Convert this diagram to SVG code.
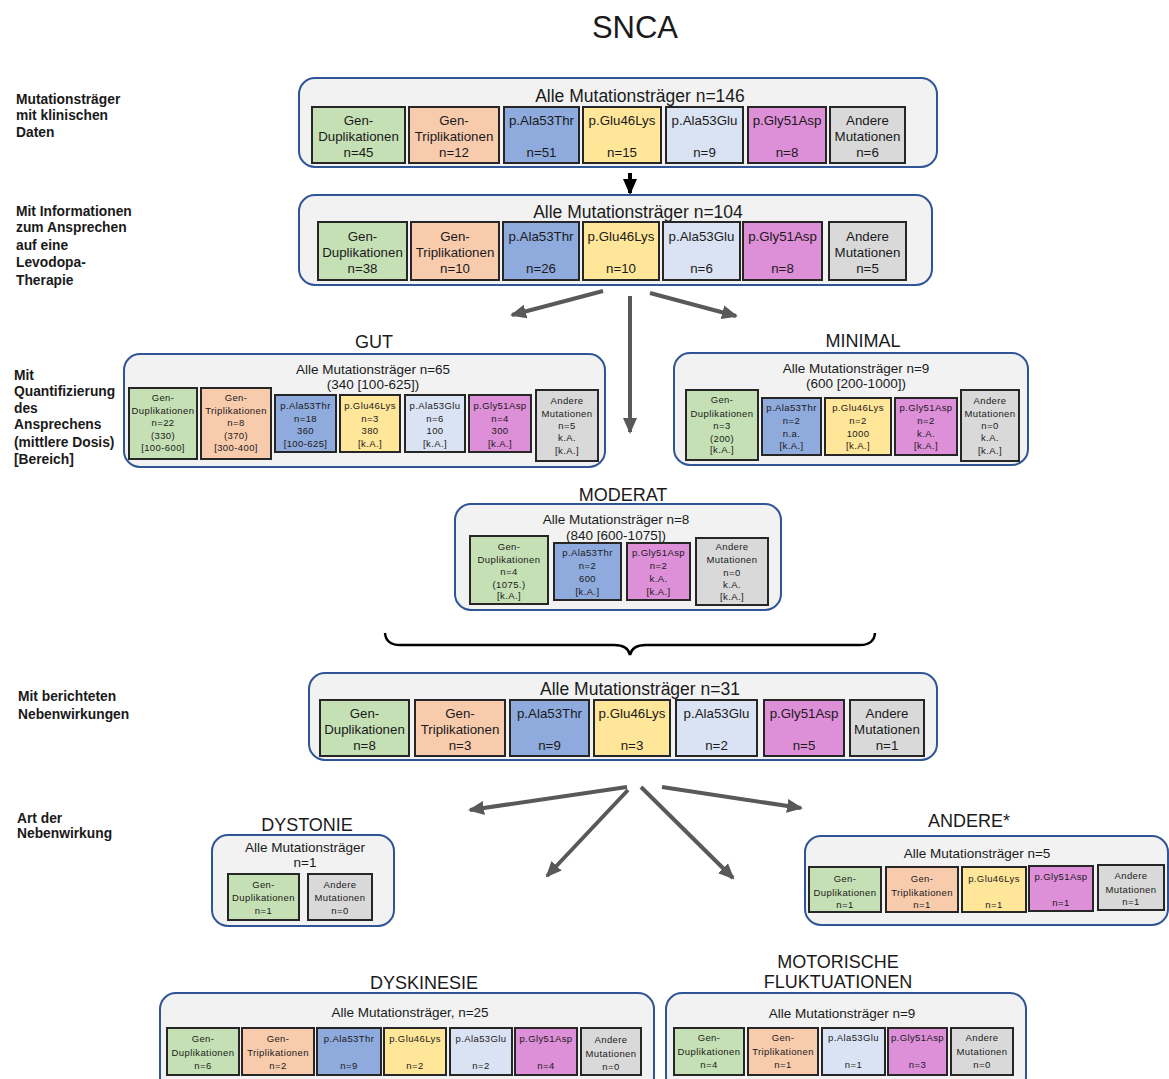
<svg xmlns="http://www.w3.org/2000/svg" width="1169" height="1079" viewBox="0 0 1169 1079">
<style>
text{font-family:"Liberation Sans",Arial,sans-serif;fill:#1a1a1a}
.grp{fill:#f2f2f2;stroke:#2f5597;stroke-width:2}
.b{stroke:#262626;stroke-width:2}
.g{fill:#c5e0b4}.o{fill:#f8cbad}.bl{fill:#8faadc}.y{fill:#ffe699}.lb{fill:#dae3f3}.m{fill:#dd8fd8}.gr{fill:#d9d9d9}
.t{font-size:17.5px;text-anchor:middle}
.st{font-size:13.5px;text-anchor:middle}
.L{font-size:13.3px;text-anchor:middle}
.s{font-size:9.5px;text-anchor:middle;letter-spacing:0.4px}
.h{font-size:18px;text-anchor:middle}
.lab{font-size:13.8px;font-weight:bold}
.con{stroke:#595959;stroke-width:4;fill:none}
</style>
<defs>
<marker id="ah" markerUnits="userSpaceOnUse" markerWidth="16" markerHeight="16" refX="14" refY="8" orient="auto"><path d="M0,1 L16,8 L0,15 Z" fill="#595959"/></marker>
<marker id="ahk" markerUnits="userSpaceOnUse" markerWidth="16" markerHeight="16" refX="14" refY="8" orient="auto"><path d="M0,1 L16,8 L0,15 Z" fill="#000"/></marker>
</defs>
<rect width="1169" height="1079" fill="#fff"/>
<text x="635" y="38" style="font-size:31px;text-anchor:middle">SNCA</text>

<g id="labels">
<text class="lab" x="16" y="104">Mutationsträger</text>
<text class="lab" x="16" y="120">mit klinischen</text>
<text class="lab" x="16" y="137">Daten</text>
<text class="lab" x="16" y="216">Mit Informationen</text>
<text class="lab" x="16" y="232">zum Ansprechen</text>
<text class="lab" x="16" y="250">auf eine</text>
<text class="lab" x="16" y="267">Levodopa-</text>
<text class="lab" x="16" y="285">Therapie</text>
<text class="lab" x="14" y="380">Mit</text>
<text class="lab" x="14" y="396">Quantifizierung</text>
<text class="lab" x="14" y="413">des</text>
<text class="lab" x="14" y="429">Ansprechens</text>
<text class="lab" x="14" y="447">(mittlere Dosis)</text>
<text class="lab" x="14" y="464">[Bereich]</text>
<text class="lab" x="18" y="701">Mit berichteten</text>
<text class="lab" x="18" y="719">Nebenwirkungen</text>
<text class="lab" x="17" y="823">Art der</text>
<text class="lab" x="17" y="838">Nebenwirkung</text>
</g>

<g id="connectors">
<line class="con" x1="630" y1="173" x2="630" y2="193" style="stroke:#000" marker-end="url(#ahk)"/>
<line class="con" x1="603" y1="291" x2="512" y2="315" marker-end="url(#ah)"/>
<line class="con" x1="630" y1="296" x2="630" y2="432" marker-end="url(#ah)"/>
<line class="con" x1="650" y1="293" x2="736" y2="316" marker-end="url(#ah)"/>
<path d="M385,633 Q386,645 400,645 L614,645 Q628,645 630,655 Q632,645 646,645 L860,645 Q874,645 875,633" fill="none" stroke="#000" stroke-width="2.5"/>
<line class="con" x1="627" y1="787" x2="470" y2="810" marker-end="url(#ah)"/>
<line class="con" x1="628" y1="790" x2="547" y2="876" marker-end="url(#ah)"/>
<line class="con" x1="641" y1="787" x2="733" y2="878" marker-end="url(#ah)"/>
<line class="con" x1="662" y1="787" x2="801" y2="808" marker-end="url(#ah)"/>
</g>

<g id="all146">
<rect class="grp" x="299" y="78" width="638" height="89" rx="16"/>
<text class="t" x="640" y="102">Alle Mutationsträger n=146</text>
<rect class="b g" x="312" y="107" width="93" height="56"/>
<text class="L" x="358.5" y="125">Gen-</text><text class="L" x="358.5" y="141">Duplikationen</text><text class="L" x="358.5" y="157">n=45</text>
<rect class="b o" x="409" y="107" width="90" height="56"/>
<text class="L" x="454" y="125">Gen-</text><text class="L" x="454" y="141">Triplikationen</text><text class="L" x="454" y="157">n=12</text>
<rect class="b bl" x="504" y="107" width="75" height="56"/>
<text class="L" x="541.5" y="125">p.Ala53Thr</text><text class="L" x="541.5" y="157">n=51</text>
<rect class="b y" x="583" y="107" width="78" height="56"/>
<text class="L" x="622" y="125">p.Glu46Lys</text><text class="L" x="622" y="157">n=15</text>
<rect class="b lb" x="666" y="107" width="77" height="56"/>
<text class="L" x="704.5" y="125">p.Ala53Glu</text><text class="L" x="704.5" y="157">n=9</text>
<rect class="b m" x="748" y="107" width="78" height="56"/>
<text class="L" x="787" y="125">p.Gly51Asp</text><text class="L" x="787" y="157">n=8</text>
<rect class="b gr" x="830" y="107" width="75" height="56"/>
<text class="L" x="867.5" y="125">Andere</text><text class="L" x="867.5" y="141">Mutationen</text><text class="L" x="867.5" y="157">n=6</text>
</g>

<g id="all104">
<rect class="grp" x="299" y="195" width="633" height="90" rx="16"/>
<text class="t" x="638" y="218">Alle Mutationsträger n=104</text>
<rect class="b g" x="318" y="222" width="89" height="58"/>
<text class="L" x="362.5" y="241">Gen-</text><text class="L" x="362.5" y="257">Duplikationen</text><text class="L" x="362.5" y="273">n=38</text>
<rect class="b o" x="411" y="222" width="88" height="58"/>
<text class="L" x="455" y="241">Gen-</text><text class="L" x="455" y="257">Triplikationen</text><text class="L" x="455" y="273">n=10</text>
<rect class="b bl" x="503" y="222" width="76" height="58"/>
<text class="L" x="541" y="241">p.Ala53Thr</text><text class="L" x="541" y="273">n=26</text>
<rect class="b y" x="583" y="222" width="76" height="58"/>
<text class="L" x="621" y="241">p.Glu46Lys</text><text class="L" x="621" y="273">n=10</text>
<rect class="b lb" x="663" y="222" width="77" height="58"/>
<text class="L" x="701.5" y="241">p.Ala53Glu</text><text class="L" x="701.5" y="273">n=6</text>
<rect class="b m" x="743" y="222" width="79" height="58"/>
<text class="L" x="782.5" y="241">p.Gly51Asp</text><text class="L" x="782.5" y="273">n=8</text>
<rect class="b gr" x="829" y="222" width="77" height="58"/>
<text class="L" x="867.5" y="241">Andere</text><text class="L" x="867.5" y="257">Mutationen</text><text class="L" x="867.5" y="273">n=5</text>
</g>

<g id="gut">
<text class="h" x="374" y="348">GUT</text>
<rect class="grp" x="124" y="354" width="481" height="113" rx="16"/>
<text class="st" x="373" y="374">Alle Mutationsträger n=65</text>
<text class="st" x="373" y="389">(340 [100-625])</text>
<rect class="b g" x="129" y="388" width="68" height="71"/>
<text class="s" x="163" y="401">Gen-</text><text class="s" x="163" y="414">Duplikationen</text><text class="s" x="163" y="426">n=22</text><text class="s" x="163" y="439">(330)</text><text class="s" x="163" y="451">[100-600]</text>
<rect class="b o" x="201" y="388" width="70" height="71"/>
<text class="s" x="236" y="401">Gen-</text><text class="s" x="236" y="414">Triplikationen</text><text class="s" x="236" y="426">n=8</text><text class="s" x="236" y="439">(370)</text><text class="s" x="236" y="451">[300-400]</text>
<rect class="b bl" x="275" y="395" width="61" height="57"/>
<text class="s" x="305.5" y="409">p.Ala53Thr</text><text class="s" x="305.5" y="422">n=18</text><text class="s" x="305.5" y="434">360</text><text class="s" x="305.5" y="447">[100-625]</text>
<rect class="b y" x="340" y="395" width="60" height="57"/>
<text class="s" x="370" y="409">p.Glu46Lys</text><text class="s" x="370" y="422">n=3</text><text class="s" x="370" y="434">380</text><text class="s" x="370" y="447">[k.A.]</text>
<rect class="b lb" x="405" y="395" width="60" height="57"/>
<text class="s" x="435" y="409">p.Ala53Glu</text><text class="s" x="435" y="422">n=6</text><text class="s" x="435" y="434">100</text><text class="s" x="435" y="447">[k.A.]</text>
<rect class="b m" x="469" y="395" width="62" height="57"/>
<text class="s" x="500" y="409">p.Gly51Asp</text><text class="s" x="500" y="422">n=4</text><text class="s" x="500" y="434">300</text><text class="s" x="500" y="447">[k.A.]</text>
<rect class="b gr" x="536" y="390" width="62" height="71"/>
<text class="s" x="567" y="404">Andere</text><text class="s" x="567" y="417">Mutationen</text><text class="s" x="567" y="429">n=5</text><text class="s" x="567" y="441">k.A.</text><text class="s" x="567" y="454">[k.A.]</text>
</g>

<g id="minimal">
<text class="h" x="863" y="347">MINIMAL</text>
<rect class="grp" x="674" y="353" width="354" height="112" rx="16"/>
<text class="st" x="856" y="373">Alle Mutationsträger n=9</text>
<text class="st" x="856" y="388">(600 [200-1000])</text>
<rect class="b g" x="686" y="390" width="72" height="70"/>
<text class="s" x="722" y="403">Gen-</text><text class="s" x="722" y="417">Duplikationen</text><text class="s" x="722" y="429">n=3</text><text class="s" x="722" y="442">(200)</text><text class="s" x="722" y="453">[k.A.]</text>
<rect class="b bl" x="762" y="398" width="59" height="57"/>
<text class="s" x="791.5" y="411">p.Ala53Thr</text><text class="s" x="791.5" y="424">n=2</text><text class="s" x="791.5" y="437">n.a.</text><text class="s" x="791.5" y="449">[k.A.]</text>
<rect class="b y" x="825" y="398" width="66" height="57"/>
<text class="s" x="858" y="411">p.Glu46Lys</text><text class="s" x="858" y="424">n=2</text><text class="s" x="858" y="437">1000</text><text class="s" x="858" y="449">[k.A.]</text>
<rect class="b m" x="895" y="398" width="62" height="57"/>
<text class="s" x="926" y="411">p.Gly51Asp</text><text class="s" x="926" y="424">n=2</text><text class="s" x="926" y="437">k.A.</text><text class="s" x="926" y="449">[k.A.]</text>
<rect class="b gr" x="961" y="390" width="58" height="71"/>
<text class="s" x="990" y="404">Andere</text><text class="s" x="990" y="417">Mutationen</text><text class="s" x="990" y="429">n=0</text><text class="s" x="990" y="441">k.A.</text><text class="s" x="990" y="454">[k.A.]</text>
</g>

<g id="moderat">
<text class="h" x="623" y="501">MODERAT</text>
<rect class="grp" x="455" y="504" width="326" height="106" rx="16"/>
<text class="st" x="616" y="524">Alle Mutationsträger n=8</text>
<text class="st" x="616" y="540">(840 [600-1075])</text>
<rect class="b g" x="470" y="536" width="78" height="68"/>
<text class="s" x="509" y="550">Gen-</text><text class="s" x="509" y="563">Duplikationen</text><text class="s" x="509" y="575">n=4</text><text class="s" x="509" y="588">(1075.)</text><text class="s" x="509" y="599">[k.A.]</text>
<rect class="b bl" x="554" y="543" width="67" height="57"/>
<text class="s" x="587.5" y="556">p.Ala53Thr</text><text class="s" x="587.5" y="569">n=2</text><text class="s" x="587.5" y="582">600</text><text class="s" x="587.5" y="595">[k.A.]</text>
<rect class="b m" x="627" y="543" width="63" height="57"/>
<text class="s" x="658.5" y="556">p.Gly51Asp</text><text class="s" x="658.5" y="569">n=2</text><text class="s" x="658.5" y="582">k.A.</text><text class="s" x="658.5" y="595">[k.A.]</text>
<rect class="b gr" x="696" y="538" width="72" height="67"/>
<text class="s" x="732" y="550">Andere</text><text class="s" x="732" y="563">Mutationen</text><text class="s" x="732" y="576">n=0</text><text class="s" x="732" y="588">k.A.</text><text class="s" x="732" y="600">[k.A.]</text>
</g>

<g id="all31">
<rect class="grp" x="309" y="673" width="628" height="87" rx="16"/>
<text class="t" x="640" y="695">Alle Mutationsträger n=31</text>
<rect class="b g" x="320" y="700" width="89" height="56"/>
<text class="L" x="364.5" y="718">Gen-</text><text class="L" x="364.5" y="734">Duplikationen</text><text class="L" x="364.5" y="750">n=8</text>
<rect class="b o" x="415" y="700" width="90" height="56"/>
<text class="L" x="460" y="718">Gen-</text><text class="L" x="460" y="734">Triplikationen</text><text class="L" x="460" y="750">n=3</text>
<rect class="b bl" x="510" y="700" width="79" height="56"/>
<text class="L" x="549.5" y="718">p.Ala53Thr</text><text class="L" x="549.5" y="750">n=9</text>
<rect class="b y" x="594" y="700" width="76" height="56"/>
<text class="L" x="632" y="718">p.Glu46Lys</text><text class="L" x="632" y="750">n=3</text>
<rect class="b lb" x="676" y="700" width="81" height="56"/>
<text class="L" x="716.5" y="718">p.Ala53Glu</text><text class="L" x="716.5" y="750">n=2</text>
<rect class="b m" x="764" y="700" width="80" height="56"/>
<text class="L" x="804" y="718">p.Gly51Asp</text><text class="L" x="804" y="750">n=5</text>
<rect class="b gr" x="850" y="700" width="74" height="56"/>
<text class="L" x="887" y="718">Andere</text><text class="L" x="887" y="734">Mutationen</text><text class="L" x="887" y="750">n=1</text>
</g>

<g id="dystonie">
<text class="h" x="307" y="831">DYSTONIE</text>
<rect class="grp" x="212" y="835" width="182" height="91" rx="16"/>
<text class="st" x="305" y="852">Alle Mutationsträger</text>
<text class="st" x="305" y="867">n=1</text>
<rect class="b g" x="228" y="874" width="71" height="46"/>
<text class="s" x="263.5" y="888">Gen-</text><text class="s" x="263.5" y="901">Duplikationen</text><text class="s" x="263.5" y="914">n=1</text>
<rect class="b gr" x="308" y="874" width="64" height="46"/>
<text class="s" x="340" y="888">Andere</text><text class="s" x="340" y="901">Mutationen</text><text class="s" x="340" y="914">n=0</text>
</g>

<g id="andere">
<text class="h" x="969" y="827">ANDERE*</text>
<rect class="grp" x="805" y="836" width="363" height="89" rx="16"/>
<text class="st" x="977" y="858">Alle Mutationsträger n=5</text>
<rect class="b g" x="809" y="867" width="72" height="45"/>
<text class="s" x="845" y="882">Gen-</text><text class="s" x="845" y="896">Duplikationen</text><text class="s" x="845" y="908">n=1</text>
<rect class="b o" x="886" y="867" width="72" height="45"/>
<text class="s" x="922" y="882">Gen-</text><text class="s" x="922" y="896">Triplikationen</text><text class="s" x="922" y="908">n=1</text>
<rect class="b y" x="962" y="867" width="64" height="45"/>
<text class="s" x="994" y="882">p.Glu46Lys</text><text class="s" x="994" y="908">n=1</text>
<rect class="b m" x="1029" y="866" width="64" height="45"/>
<text class="s" x="1061" y="880">p.Gly51Asp</text><text class="s" x="1061" y="906">n=1</text>
<rect class="b gr" x="1098" y="865" width="66" height="45"/>
<text class="s" x="1131" y="879">Andere</text><text class="s" x="1131" y="893">Mutationen</text><text class="s" x="1131" y="905">n=1</text>
</g>

<g id="dyskinesie">
<text class="h" x="424" y="989">DYSKINESIE</text>
<rect class="grp" x="160" y="993" width="494" height="100" rx="16"/>
<text class="st" x="410" y="1017">Alle Mutationsträger, n=25</text>
<rect class="b g" x="167" y="1028" width="72" height="47"/>
<text class="s" x="203" y="1042">Gen-</text><text class="s" x="203" y="1056">Duplikationen</text><text class="s" x="203" y="1069">n=6</text>
<rect class="b o" x="242" y="1028" width="72" height="47"/>
<text class="s" x="278" y="1042">Gen-</text><text class="s" x="278" y="1056">Triplikationen</text><text class="s" x="278" y="1069">n=2</text>
<rect class="b bl" x="317" y="1028" width="64" height="47"/>
<text class="s" x="349" y="1042">p.Ala53Thr</text><text class="s" x="349" y="1069">n=9</text>
<rect class="b y" x="384" y="1028" width="62" height="47"/>
<text class="s" x="415" y="1042">p.Glu46Lys</text><text class="s" x="415" y="1069">n=2</text>
<rect class="b lb" x="450" y="1028" width="62" height="47"/>
<text class="s" x="481" y="1042">p.Ala53Glu</text><text class="s" x="481" y="1069">n=2</text>
<rect class="b m" x="515" y="1028" width="62" height="47"/>
<text class="s" x="546" y="1042">p.Gly51Asp</text><text class="s" x="546" y="1069">n=4</text>
<rect class="b gr" x="581" y="1028" width="60" height="47"/>
<text class="s" x="611" y="1043">Andere</text><text class="s" x="611" y="1057">Mutationen</text><text class="s" x="611" y="1070">n=0</text>
</g>

<g id="motorische">
<text class="h" x="838" y="968">MOTORISCHE</text>
<text class="h" x="838" y="988">FLUKTUATIONEN</text>
<rect class="grp" x="666" y="993" width="360" height="100" rx="16"/>
<text class="st" x="842" y="1018">Alle Mutationsträger n=9</text>
<rect class="b g" x="674" y="1028" width="70" height="47"/>
<text class="s" x="709" y="1041">Gen-</text><text class="s" x="709" y="1055">Duplikationen</text><text class="s" x="709" y="1068">n=4</text>
<rect class="b o" x="748" y="1028" width="70" height="47"/>
<text class="s" x="783" y="1041">Gen-</text><text class="s" x="783" y="1055">Triplikationen</text><text class="s" x="783" y="1068">n=1</text>
<rect class="b lb" x="822" y="1028" width="63" height="47"/>
<text class="s" x="853.5" y="1041">p.Ala53Glu</text><text class="s" x="853.5" y="1068">n=1</text>
<rect class="b m" x="888" y="1028" width="59" height="47"/>
<text class="s" x="917.5" y="1041">p.Gly51Asp</text><text class="s" x="917.5" y="1068">n=3</text>
<rect class="b gr" x="951" y="1028" width="62" height="47"/>
<text class="s" x="982" y="1041">Andere</text><text class="s" x="982" y="1055">Mutationen</text><text class="s" x="982" y="1068">n=0</text>
</g>
</svg>
